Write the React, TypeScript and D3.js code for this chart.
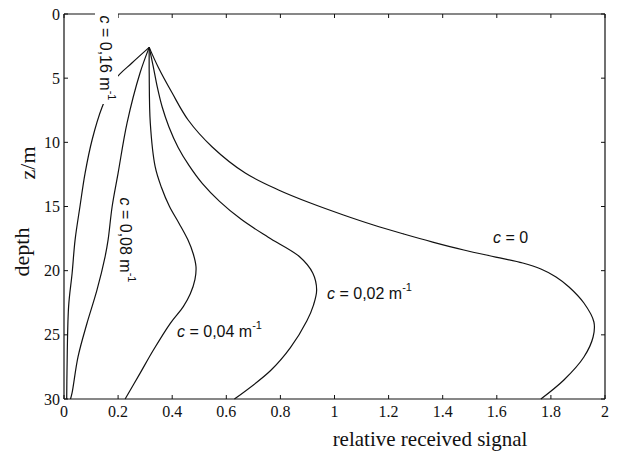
import React from "react";
import * as d3 from "d3";

const xTicks = [0, 0.2, 0.4, 0.6, 0.8, 1, 1.2, 1.4, 1.6, 1.8, 2];
const xTickLabels = ["0", "0.2", "0.4", "0.6", "0.8", "1", "1.2", "1.4", "1.6", "1.8", "2"];
const yTicks = [0, 5, 10, 15, 20, 25, 30];

const depthC0 = [2.6, 4.13, 6.16, 8.26, 10.36, 12.39, 13.71, 14.73, 15.66, 16.44, 17.14, 17.77, 18.39, 18.94, 19.4, 19.87, 20.49, 21.27, 22.52, 24.0, 25.17, 26.73, 28.52, 30];
const signalC0 = [0.315, 0.348, 0.4, 0.459, 0.548, 0.67, 0.793, 0.911, 1.033, 1.144, 1.256, 1.363, 1.478, 1.596, 1.696, 1.763, 1.819, 1.867, 1.922, 1.959, 1.956, 1.922, 1.848, 1.763];

const depthC002 = [2.6, 4.1, 5.7, 7.25, 8.8, 10.4, 11.8, 13.2, 14.6, 16.0, 17.4, 18.9, 20.2, 21.5, 22.7, 23.9, 26.0, 27.8, 30];
const signalC002 = [0.315, 0.33, 0.345, 0.363, 0.388, 0.422, 0.462, 0.511, 0.575, 0.655, 0.755, 0.87, 0.92, 0.934, 0.922, 0.898, 0.837, 0.763, 0.63];

const depthC004 = [2.6, 4.6, 8.5, 11.9, 13.5, 15.0, 16.3, 17.6, 18.7, 19.7, 20.7, 21.8, 22.8, 24.1, 26.2, 28.0, 30];
const signalC004 = [0.315, 0.315, 0.319, 0.337, 0.36, 0.39, 0.425, 0.458, 0.478, 0.488, 0.484, 0.467, 0.441, 0.393, 0.33, 0.281, 0.226];

const depthC008 = [2.6, 4.6, 8.5, 12.4, 15.0, 17.6, 18.9, 21.5, 24.1, 26.7, 29.5, 30];
const signalC008 = [0.315, 0.281, 0.233, 0.2, 0.178, 0.163, 0.152, 0.122, 0.085, 0.052, 0.03, 0.024];

const depthC016 = [2.6, 3.8, 5.1, 7.25, 9.8, 12.4, 15.0, 17.6, 20.2, 22.8, 28.0, 30];
const signalC016 = [0.315, 0.252, 0.189, 0.141, 0.104, 0.078, 0.059, 0.041, 0.03, 0.017, 0.011, 0.01];

const series = [
  { depth: depthC0, signal: signalC0 },
  { depth: depthC002, signal: signalC002 },
  { depth: depthC004, signal: signalC004 },
  { depth: depthC008, signal: signalC008 },
  { depth: depthC016, signal: signalC016 },
];

const W = 624;
const H = 455;
const left = 64;
const right = 605;
const top = 14;
const bottom = 399;

const sans = "Liberation Sans, Arial, sans-serif";
const serif = "Liberation Serif, DejaVu Serif, Times New Roman, serif";

function CLabel({ x, y, value, rotate, anchor }: { x: number; y: number; value: string; rotate?: number; anchor?: string }) {
  return (
    <text
      x={x}
      y={y}
      transform={rotate ? `rotate(${rotate},${x},${y})` : undefined}
      fontFamily={sans}
      fontSize={16}
      textAnchor={anchor || "middle"}
      dominantBaseline="central"
      fill="#111"
    >
      <tspan fontStyle="italic">c</tspan>
      <tspan>{" = " + value}</tspan>
      {value !== "0" && (
        <>
          <tspan>{" m"}</tspan>
          <tspan fontSize={11} dy={-6}>-1</tspan>
        </>
      )}
    </text>
  );
}

export default function App() {
  const x = d3.scaleLinear().domain([0, 2]).range([left, right]);
  const y = d3.scaleLinear().domain([0, 30]).range([top, bottom]);
  const line = d3
    .line<[number, number]>()
    .x((d) => x(d[0]))
    .y((d) => y(d[1]))
    .curve(d3.curveCatmullRom.alpha(0.5));

  return (
    <svg width={W} height={H} style={{ position: "absolute", left: 0, top: 0, background: "#fff" }}>
      <rect x={0} y={0} width={W} height={H} fill="#fff" />
      {/* frame */}
      <g stroke="#111" strokeWidth={1.2} fill="none">
        <line x1={left} y1={top} x2={left} y2={bottom} />
        <line x1={left} y1={bottom} x2={right} y2={bottom} />
        <line x1={right} y1={top} x2={right} y2={bottom} />
        <line x1={left} y1={top} x2={right} y2={top} />
      </g>
      {/* ticks */}
      <g stroke="#111" strokeWidth={1}>
        {xTicks.map((t) => (
          <g key={"xt" + t}>
            <line x1={x(t)} x2={x(t)} y1={bottom} y2={bottom - 4} />
            <line x1={x(t)} x2={x(t)} y1={top} y2={top + 4} />
          </g>
        ))}
        {yTicks.map((t) => (
          <g key={"yt" + t}>
            <line x1={left} x2={left + 4} y1={y(t)} y2={y(t)} />
            <line x1={right} x2={right - 4} y1={y(t)} y2={y(t)} />
          </g>
        ))}
      </g>
      {/* tick labels */}
      <g fontFamily={serif} fontSize={16} fill="#111">
        {xTicks.map((t, i) => (
          <text key={"xl" + t} x={x(t)} y={bottom + 12} textAnchor="middle" dominantBaseline="central">
            {xTickLabels[i]}
          </text>
        ))}
        {yTicks.map((t) => (
          <text key={"yl" + t} x={left - 4} y={y(t)} textAnchor="end" dominantBaseline="central">
            {t}
          </text>
        ))}
      </g>
      {/* curves */}
      <g fill="none" stroke="#111" strokeWidth={1.2}>
        {series.map((s, i) => (
          <path key={i} d={line(s.depth.map((d, j) => [s.signal[j], d] as [number, number])) || ""} />
        ))}
      </g>
      {/* label for c = 0,16 with white backing */}
      <rect x={95} y={8} width={23} height={96} fill="#fff" />
      <CLabel x={106} y={58} value="0,16" rotate={90} />
      <CLabel x={126} y={240} value="0,08" rotate={90} />
      <CLabel x={177} y={331} value="0,04" anchor="start" />
      <CLabel x={327} y={293} value="0,02" anchor="start" />
      <CLabel x={493} y={237} value="0" anchor="start" />
      {/* axis titles */}
      <text x={430} y={439} fontFamily={serif} fontSize={21} textAnchor="middle" dominantBaseline="central" fill="#111">
        relative received signal
      </text>
      <text x={27} y={163} transform="rotate(-90,27,163)" fontFamily={serif} fontSize={22} textAnchor="middle" dominantBaseline="central" fill="#111">
        z/m
      </text>
      <text x={21} y={252} transform="rotate(-90,21,252)" fontFamily={serif} fontSize={22} textAnchor="middle" dominantBaseline="central" fill="#111">
        depth
      </text>
    </svg>
  );
}
